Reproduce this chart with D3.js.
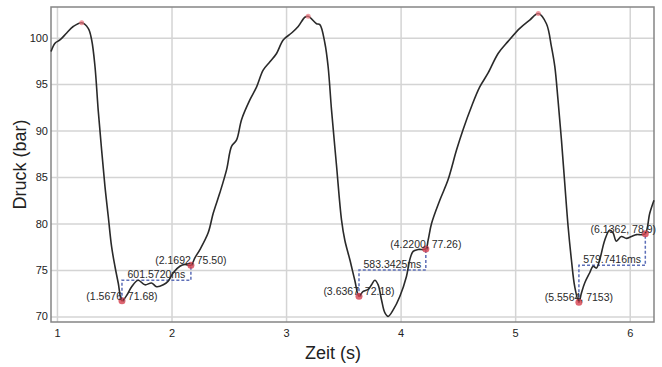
<!doctype html>
<html>
<head>
  <meta charset="utf-8">
  <script src="https://cdnjs.cloudflare.com/ajax/libs/d3/7.8.5/d3.min.js"></script>
  <style>
    body { margin: 0; background: #fff; }
    svg { display: block; font-family: "Liberation Sans", Arial, sans-serif; }
    .grid line { stroke: #d4d4d4; stroke-width: 1.5; }
    .grid text { fill: #222; font-size: 11px; }
  </style>
  <title>Druck</title>
</head>
<body>
  <svg width="662" height="367"></svg>
  <script>
    // pressure trace
    var time = [0.948, 0.983, 1.026, 1.085, 1.142, 1.216, 1.273, 1.303, 1.332, 1.360, 1.390, 1.419, 1.448, 1.477, 1.506, 1.535, 1.5676,
      1.611, 1.652, 1.709, 1.768, 1.826, 1.870, 1.928, 1.971, 2.015, 2.073, 2.117, 2.1692, 2.204, 2.248, 2.320, 2.364, 2.422,
      2.481, 2.524, 2.568, 2.612, 2.684, 2.743, 2.800, 2.859, 2.917, 2.975, 3.048, 3.106, 3.164, 3.193, 3.266, 3.295, 3.339,
      3.367, 3.397, 3.440, 3.484, 3.513, 3.557, 3.600, 3.6367, 3.673, 3.716, 3.746, 3.775, 3.804, 3.833, 3.862, 3.891, 3.935,
      3.993, 4.051, 4.080, 4.109, 4.153, 4.2200, 4.240, 4.270, 4.342, 4.414, 4.488, 4.545, 4.619, 4.691, 4.764, 4.851, 4.938,
      5.040, 5.127, 5.202, 5.273, 5.317, 5.346, 5.374, 5.404, 5.433, 5.462, 5.491, 5.520, 5.5564, 5.578, 5.607, 5.651, 5.680,
      5.709, 5.738, 5.782, 5.825, 5.854, 5.883, 5.927, 5.971, 6.015, 6.059, 6.102, 6.1362, 6.175, 6.212]
    var pressure = [98.5, 99.4, 99.75, 100.5, 101.2, 101.6, 101.0, 99.75, 96.9, 92.2, 87.9, 84.0, 80.75, 77.5, 75.4, 73.6, 71.68,
      72.3, 73.2, 73.9, 73.4, 73.6, 73.2, 73.4, 73.8, 74.7, 75.4, 75.6, 75.50, 76.3, 77.2, 79.0, 81.1, 83.3,
      85.8, 88.3, 89.0, 91.2, 93.3, 94.7, 96.5, 97.4, 98.3, 99.75, 100.5, 101.2, 102.2, 102.3, 101.5, 101.4, 99.4,
      96.9, 92.2, 86.3, 80.4, 78.2, 76.1, 73.9, 72.18, 72.7, 72.9, 73.4, 73.9, 73.4, 71.8, 70.4, 70.0, 70.7,
      72.15, 74.3, 76.1, 77.0, 77.2, 77.26, 78.2, 80.0, 82.5, 84.7, 87.9, 90.1, 92.6, 94.7, 96.2, 98.3, 99.6,
      101.0, 101.9, 102.6, 101.5, 99.0, 96.9, 93.3, 89.0, 84.3, 79.7, 76.1, 73.2, 71.53, 72.5, 73.6, 74.7, 75.4,
      75.2, 76.1, 78.2, 79.3, 79.0, 78.1, 78.6, 78.4, 78.6, 78.8, 78.8, 78.9, 81.1, 82.5]

    var peakTimes = [1.216, 3.193, 5.202]
    var peakValues = [101.6, 102.3, 102.6]

    var startTimes = [1.5676, 3.6367, 5.5564]
    var startValues = [71.68, 72.18, 71.53]
    var startLabels = ["(1.5676, 71.68)", "(3.6367, 72.18)", "(5.5564, 7153)"]

    var endTimes = [2.1692, 4.2200, 6.1362]
    var endValues = [75.50, 77.26, 78.9]
    var endLabels = ["(2.1692, 75.50)", "(4.2200, 77.26)", "(6.1362, 78.9)"]

    var intervalLabels = ["601.5720ms", "583.3425ms", "579.7416ms"]
    var bracketLevels = [73.9, 75.0, 75.5]

    var xTicks = [1, 2, 3, 4, 5, 6]
    var yTicks = [70, 75, 80, 85, 90, 95, 100]

    var svg = d3.select("svg")
    var plotL = 51, plotR = 654, plotT = 7, plotB = 322

    var x = d3.scaleLinear().domain([0.948, 6.212]).range([plotL, plotR])
    var y = d3.scaleLinear().domain([69.4, 103.3]).range([plotB, plotT])

    svg.append("rect").attr("width", 662).attr("height", 367).attr("fill", "#fff")

    // grid + tick labels
    svg.append("g")
      .attr("class", "grid")
      .attr("transform", "translate(0," + plotB + ")")
      .call(d3.axisBottom(x).tickValues(xTicks).tickSize(-(plotB - plotT)).tickPadding(7).tickFormat(d3.format("d")))
      .call(g => g.select(".domain").remove())

    svg.append("g")
      .attr("class", "grid")
      .attr("transform", "translate(" + plotL + ",0)")
      .call(d3.axisLeft(y).tickValues(yTicks).tickSize(-(plotR - plotL)).tickPadding(3).tickFormat(d3.format("d")))
      .call(g => g.select(".domain").remove())

    svg.append("rect")
      .attr("x", plotL).attr("y", plotT)
      .attr("width", plotR - plotL).attr("height", plotB - plotT)
      .attr("fill", "none").attr("stroke", "#858585").attr("stroke-width", 1.5)

    // interval brackets
    var brackets = svg.append("g")
    startTimes.forEach(function (t0, i) {
      var t1 = endTimes[i], lv = bracketLevels[i]
      brackets.append("path")
        .attr("d", d3.line()([[x(t0), y(startValues[i])], [x(t0), y(lv)], [x(t1), y(lv)], [x(t1), y(endValues[i])]]))
        .attr("fill", "none")
        .attr("stroke", "#5d6fb8")
        .attr("stroke-width", 1.5)
        .attr("stroke-dasharray", "3,2")
    })

    // trace
    var pts = time.map((t, i) => [t, pressure[i]])
    svg.append("path")
      .datum(pts)
      .attr("fill", "none")
      .attr("stroke", "#2a2a2a")
      .attr("stroke-width", 1.6)
      .attr("stroke-linejoin", "round")
      .attr("d", d3.line().x(d => x(d[0])).y(d => y(d[1])).curve(d3.curveCatmullRom.alpha(0.5)))

    // markers
    svg.selectAll(".peak")
      .data(peakTimes)
      .enter()
      .append("circle")
      .attr("class", "peak")
      .attr("cx", d => x(d))
      .attr("cy", (d, i) => y(peakValues[i]))
      .attr("r", 2.5)
      .attr("fill", "#e8707a")
      .attr("opacity", 0.7)

    var marks = startTimes.map((t, i) => [t, startValues[i]]).concat(endTimes.map((t, i) => [t, endValues[i]]))
    svg.selectAll(".mark")
      .data(marks)
      .enter()
      .append("circle")
      .attr("class", "mark")
      .attr("cx", d => x(d[0]))
      .attr("cy", d => y(d[1]))
      .attr("r", 3.5)
      .attr("fill", "#d6404f")
      .attr("opacity", 0.8)

    // labels (kept inside the plot box on the right)
    var lbl = svg.append("g")
      .attr("font-size", "10.5px")
      .attr("fill", "#2a2a2a")
      .attr("text-anchor", "middle")
    function addLabel(cx, cy, s) {
      var t = lbl.append("text").attr("x", cx).attr("y", cy).text(s)
      var half = t.node().getComputedTextLength() / 2
      if (cx + half > plotR + 2) t.attr("x", plotR + 2 - half)
    }
    startTimes.forEach(function (t, i) {
      addLabel(x(t), y(startValues[i]) - 1, startLabels[i])
      addLabel(x(endTimes[i]), y(endValues[i]) - 1, endLabels[i])
      addLabel((x(t) + x(endTimes[i])) / 2, y(bracketLevels[i]) - 2, intervalLabels[i])
    })

    // axis titles
    svg.append("text")
      .attr("x", 333).attr("y", 359)
      .attr("text-anchor", "middle")
      .attr("font-size", "18px")
      .attr("fill", "#222")
      .text("Zeit (s)")

    svg.append("text")
      .attr("transform", "translate(26," + (plotT + plotB) / 2 + ") rotate(-90)")
      .attr("text-anchor", "middle")
      .attr("font-size", "18px")
      .attr("fill", "#222")
      .text("Druck (bar)")
  </script>
</body>
</html>
